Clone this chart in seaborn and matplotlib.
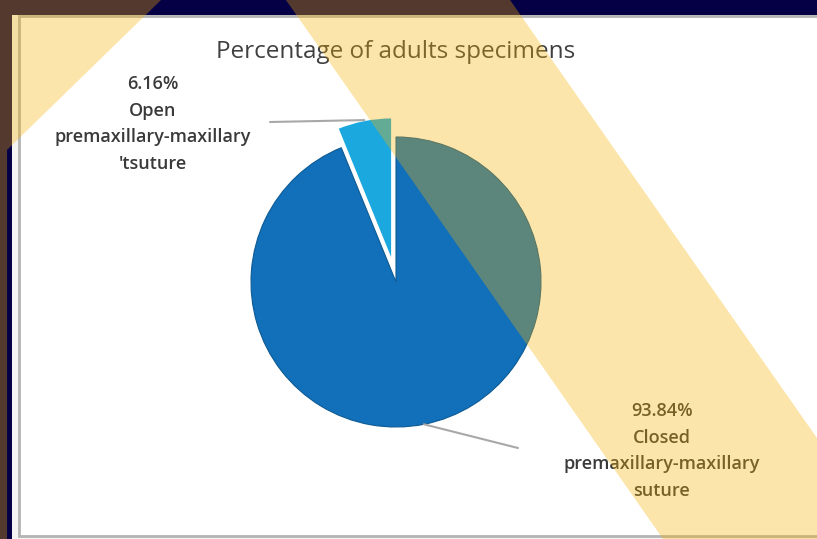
import numpy as np
import matplotlib
matplotlib.use("Agg")
import matplotlib.pyplot as plt
from matplotlib.patches import Rectangle, Polygon
import seaborn as sns

# data
labels = ["Open\npremaxillary-maxillary\n'tsuture", "Closed\npremaxillary-maxillary\nsuture"]
values = [6.16, 93.84]
slice_colors = ["#1ba8de", "#1170b9"]
title = "Percentage of adults specimens"

sns.set_theme(style="white")
plt.rcParams["font.family"] = ["Open Sans", "DejaVu Sans"]

W, H = 817, 539
fig = plt.figure(figsize=(W / 100, H / 100), dpi=100, facecolor="#050046")
ax = fig.add_axes([0, 0, 1, 1])


def up(y):
    # pixel row from top -> axes y
    return H - y


# white panel with grey frame
ax.add_patch(Rectangle((12, 0), W, up(15), facecolor="#f4f4f4", edgecolor="none", zorder=0))
ax.add_patch(Rectangle((19, up(536)), W, 536 - 16, facecolor="white",
                       edgecolor="#b4b4b4", lw=2, zorder=0))

# pie (explode is in data units here, pixels)
cx, cy, r = 396, up(282), 145
explode = [20, 0]
wedges, _ = ax.pie(values, colors=slice_colors, startangle=90, counterclock=True,
                   explode=explode, center=(cx, cy), radius=r, frame=True,
                   wedgeprops=dict(linewidth=0.8, edgecolor="#0d5a94"))
wedges[0].set_edgecolor("white")
wedges[0].set_linewidth(1.5)
ax.set_xlim(0, W)
ax.set_ylim(0, H)
ax.set_aspect("equal")
ax.axis("off")

ax.text(396, up(52), title, ha="center", va="center", fontsize=17.5, color="#404040", zorder=5)

# labels with leader lines
label_pos = [(153, up(124)), (662, up(451))]
line_end = [(270, up(122)), (518, up(448))]
fs = 13
for w, lab, v, (tx, ty), (ex, ey) in zip(wedges, labels, values, label_pos, line_end):
    mid = np.deg2rad((w.theta1 + w.theta2) / 2)
    x0 = w.center[0] + w.r * np.cos(mid)
    y0 = w.center[1] + w.r * np.sin(mid)
    ax.plot([x0, ex], [y0, ey], color="#a8a8a8", lw=1.5, zorder=4)
    ax.text(tx, ty, f"{v:.2f}%\n{lab}", ha="center", va="center", fontsize=fs,
            color="#3a3a3a", linespacing=1.6, fontweight="semibold", zorder=5)

# translucent yellow bands over the screenshot
band = dict(facecolor="#f8b300", alpha=0.33, edgecolor="none", zorder=10)
ax.add_patch(Polygon([(0, up(0)), (161, up(0)), (7, up(150)), (7, up(539)), (0, up(539))], **band))
ax.add_patch(Polygon([(286, up(0)), (510, up(0)), (817, up(438)), (817, up(539)), (663, up(539))], **band))

fig.savefig("out.png", dpi=100, facecolor=fig.get_facecolor())
